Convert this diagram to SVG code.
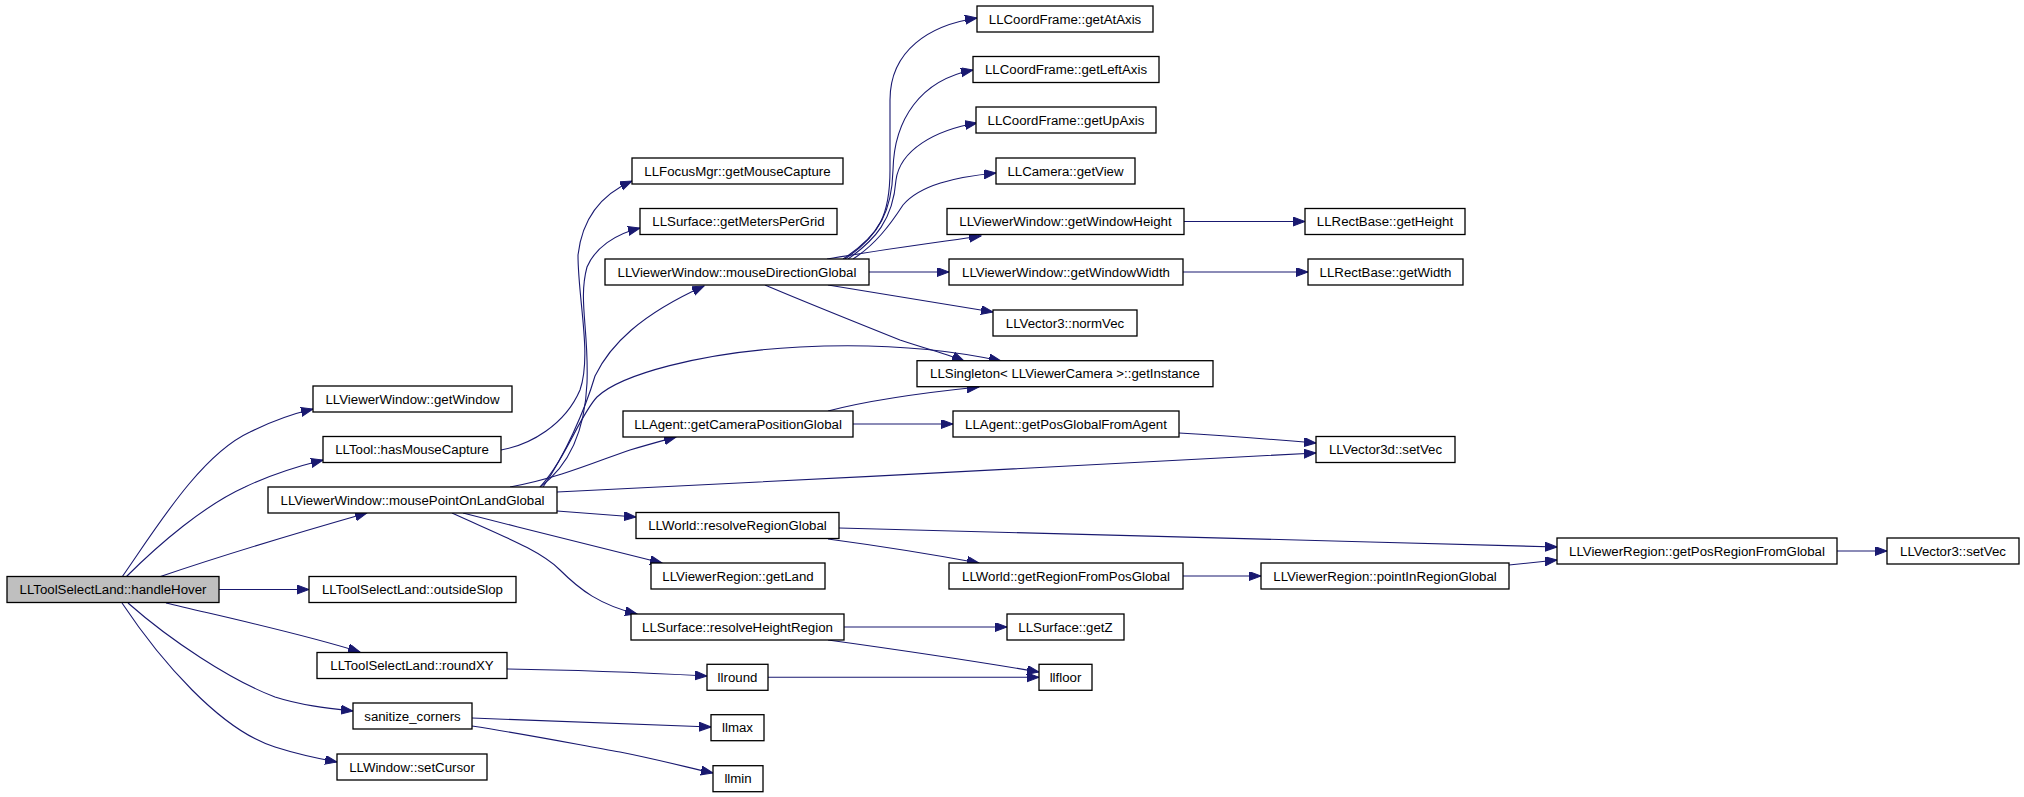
<svg xmlns="http://www.w3.org/2000/svg" width="2024" height="797" viewBox="0 0 2024 797">
<style>
.node rect{fill:#ffffff;stroke:#000000;stroke-width:1.3}
.node.root rect{fill:#bfbfbf}
.node text{font-family:"Liberation Sans",Arial,sans-serif;font-size:13.25px;fill:#000000;text-anchor:middle}
.edges path{fill:none;stroke:#191970;stroke-width:1.1;marker-end:url(#arr)}
</style>
<defs>
<marker id="arr" markerUnits="userSpaceOnUse" markerWidth="13" markerHeight="10" refX="12" refY="4.5" orient="auto">
<path d="M0,0 L12,4.5 L0,9 z" fill="#191970" stroke="#191970" stroke-width="1"/>
</marker>
</defs>
<rect x="0" y="0" width="2024" height="797" fill="#ffffff"/>
<g id="edges" class="edges">
<path d="M122,577 C155,530 200,455 250,432 C272,421 292,414 313,409"/>
<path d="M126,577 C160,543 205,505 245,487 C270,475 295,467 323,460"/>
<path d="M159,577 C200,563 290,535 367,513"/>
<path d="M219,589.5 L309,589.5"/>
<path d="M166,603 C220,616 300,633 360,652"/>
<path d="M128,603 C170,640 230,680 275,697 C300,705 325,708 353,711"/>
<path d="M122,603 C160,660 220,730 275,747 C300,755 315,758 337,762"/>
<path d="M501,450 C530,445 565,425 580,390 C592,355 578,300 578,255 C582,220 600,195 632,181"/>
<path d="M540,487 C570,465 585,430 587,383 C589,330 578,300 587,267 C595,248 615,234 640,228"/>
<path d="M543,487 C565,455 585,410 595,376 C610,345 640,315 704,286"/>
<path d="M540,487 C565,460 580,415 597,397 C620,375 700,352 800,347 C880,343 950,350 1001,361"/>
<path d="M510,487 C560,478 600,460 630,450 C650,444 665,440 676,437"/>
<path d="M557,492 C800,480 1100,465 1316,453"/>
<path d="M557,511 L636,517"/>
<path d="M463,513 C530,530 600,548 662,563"/>
<path d="M452,513 C500,535 540,550 560,570 C580,590 600,605 637,614"/>
<path d="M765,285 C800,300 850,320 900,340 C930,350 950,355 964,361"/>
<path d="M828,411 C870,400 930,392 979,387"/>
<path d="M853,424 L953,424"/>
<path d="M1179,433 C1230,436 1280,440 1316,443"/>
<path d="M828,539 C880,546 930,554 979,563"/>
<path d="M839,528 C1000,532 1300,540 1557,547"/>
<path d="M1183,576 L1261,576"/>
<path d="M1509,565 L1557,560"/>
<path d="M1837,551 L1887,551"/>
<path d="M844,627 L1007,627"/>
<path d="M828,640 C900,650 980,662 1039,672"/>
<path d="M507,669 C580,670 650,673 707,676"/>
<path d="M768,677.3 L1039,677.3"/>
<path d="M472,718 C560,721 640,725 711,727"/>
<path d="M472,726 C530,735 580,745 620,752 C660,760 690,768 713,773"/>
<path d="M1184,221.5 L1305,221.5"/>
<path d="M1183,272 L1308,272"/>
<path d="M869,272 L949,272"/>
<path d="M827,259 C880,250 940,242 981,236"/>
<path d="M828,285 C890,295 950,305 993,312"/>
<path d="M853,259 C875,245 890,225 903,205 C920,185 955,177 996,173"/>
<path d="M848,259 C875,240 893,220 896,180 C900,150 935,130 977,123"/>
<path d="M845,259 C880,235 892,210 893,170 C894,120 920,80 973,70"/>
<path d="M843,259 C880,235 890,215 890,170 L890,100 C890,50 930,25 977,18"/>
</g>
<g id="n_handleHover" class="node root"><rect x="7" y="576.5" width="212" height="26"/><text x="113" y="594.2">LLToolSelectLand::handleHover</text></g>
<g id="n_getWindow" class="node"><rect x="313" y="386" width="199" height="26"/><text x="412.5" y="403.7">LLViewerWindow::getWindow</text></g>
<g id="n_hasMouseCapture" class="node"><rect x="323" y="436.5" width="178" height="26"/><text x="412" y="454.2">LLTool::hasMouseCapture</text></g>
<g id="n_mousePointOnLandGlobal" class="node"><rect x="268" y="487" width="289" height="26"/><text x="412.5" y="504.7">LLViewerWindow::mousePointOnLandGlobal</text></g>
<g id="n_outsideSlop" class="node"><rect x="309" y="576.5" width="207" height="26"/><text x="412.5" y="594.2">LLToolSelectLand::outsideSlop</text></g>
<g id="n_roundXY" class="node"><rect x="317" y="652.5" width="190" height="26"/><text x="412" y="670.2">LLToolSelectLand::roundXY</text></g>
<g id="n_sanitize_corners" class="node"><rect x="353" y="703" width="119" height="26"/><text x="412.5" y="720.7">sanitize_corners</text></g>
<g id="n_setCursor" class="node"><rect x="337" y="754" width="150" height="26"/><text x="412" y="771.7">LLWindow::setCursor</text></g>
<g id="n_getMouseCapture" class="node"><rect x="632" y="158" width="211" height="26"/><text x="737.5" y="175.7">LLFocusMgr::getMouseCapture</text></g>
<g id="n_getMetersPerGrid" class="node"><rect x="640" y="208.5" width="197" height="26"/><text x="738.5" y="226.2">LLSurface::getMetersPerGrid</text></g>
<g id="n_mouseDirectionGlobal" class="node"><rect x="605" y="259" width="264" height="26"/><text x="737" y="276.7">LLViewerWindow::mouseDirectionGlobal</text></g>
<g id="n_getCameraPositionGlobal" class="node"><rect x="623" y="411" width="230" height="26"/><text x="738" y="428.7">LLAgent::getCameraPositionGlobal</text></g>
<g id="n_resolveRegionGlobal" class="node"><rect x="636" y="512.5" width="203" height="26"/><text x="737.5" y="530.2">LLWorld::resolveRegionGlobal</text></g>
<g id="n_getLand" class="node"><rect x="651" y="563" width="174" height="26"/><text x="738" y="580.7">LLViewerRegion::getLand</text></g>
<g id="n_resolveHeightRegion" class="node"><rect x="631" y="614" width="213" height="26"/><text x="737.5" y="631.7">LLSurface::resolveHeightRegion</text></g>
<g id="n_llround" class="node"><rect x="707" y="664.3" width="61" height="26"/><text x="737.5" y="682">llround</text></g>
<g id="n_llmax" class="node"><rect x="711" y="714.7" width="53" height="26"/><text x="737.5" y="732.4">llmax</text></g>
<g id="n_llmin" class="node"><rect x="713" y="765.7" width="50" height="26"/><text x="738" y="783.4">llmin</text></g>
<g id="n_getAtAxis" class="node"><rect x="977" y="6" width="176" height="26"/><text x="1065" y="23.7">LLCoordFrame::getAtAxis</text></g>
<g id="n_getLeftAxis" class="node"><rect x="973" y="56.5" width="186" height="26"/><text x="1066" y="74.2">LLCoordFrame::getLeftAxis</text></g>
<g id="n_getUpAxis" class="node"><rect x="976" y="107" width="180" height="26"/><text x="1066" y="124.7">LLCoordFrame::getUpAxis</text></g>
<g id="n_getView" class="node"><rect x="996" y="158" width="139" height="26"/><text x="1065.5" y="175.7">LLCamera::getView</text></g>
<g id="n_getWindowHeight" class="node"><rect x="947" y="208.5" width="237" height="26"/><text x="1065.5" y="226.2">LLViewerWindow::getWindowHeight</text></g>
<g id="n_getWindowWidth" class="node"><rect x="949" y="259" width="234" height="26"/><text x="1066" y="276.7">LLViewerWindow::getWindowWidth</text></g>
<g id="n_normVec" class="node"><rect x="993" y="310" width="144" height="26"/><text x="1065" y="327.7">LLVector3::normVec</text></g>
<g id="n_getInstance" class="node"><rect x="917" y="360.7" width="296" height="26"/><text x="1065" y="378.4">LLSingleton&lt; LLViewerCamera &gt;::getInstance</text></g>
<g id="n_getPosGlobalFromAgent" class="node"><rect x="953" y="411" width="226" height="26"/><text x="1066" y="428.7">LLAgent::getPosGlobalFromAgent</text></g>
<g id="n_getRegionFromPosGlobal" class="node"><rect x="949" y="563" width="234" height="26"/><text x="1066" y="580.7">LLWorld::getRegionFromPosGlobal</text></g>
<g id="n_getZ" class="node"><rect x="1007" y="614" width="117" height="26"/><text x="1065.5" y="631.7">LLSurface::getZ</text></g>
<g id="n_llfloor" class="node"><rect x="1039" y="664.3" width="53" height="26"/><text x="1065.5" y="682">llfloor</text></g>
<g id="n_getHeight" class="node"><rect x="1305" y="208.5" width="160" height="26"/><text x="1385" y="226.2">LLRectBase::getHeight</text></g>
<g id="n_getWidth" class="node"><rect x="1308" y="259" width="155" height="26"/><text x="1385.5" y="276.7">LLRectBase::getWidth</text></g>
<g id="n_setVec3d" class="node"><rect x="1316" y="436.5" width="139" height="26"/><text x="1385.5" y="454.2">LLVector3d::setVec</text></g>
<g id="n_pointInRegionGlobal" class="node"><rect x="1261" y="563" width="248" height="26"/><text x="1385" y="580.7">LLViewerRegion::pointInRegionGlobal</text></g>
<g id="n_getPosRegionFromGlobal" class="node"><rect x="1557" y="538" width="280" height="26"/><text x="1697" y="555.7">LLViewerRegion::getPosRegionFromGlobal</text></g>
<g id="n_setVec3" class="node"><rect x="1887" y="538" width="132" height="26"/><text x="1953" y="555.7">LLVector3::setVec</text></g>
</svg>
